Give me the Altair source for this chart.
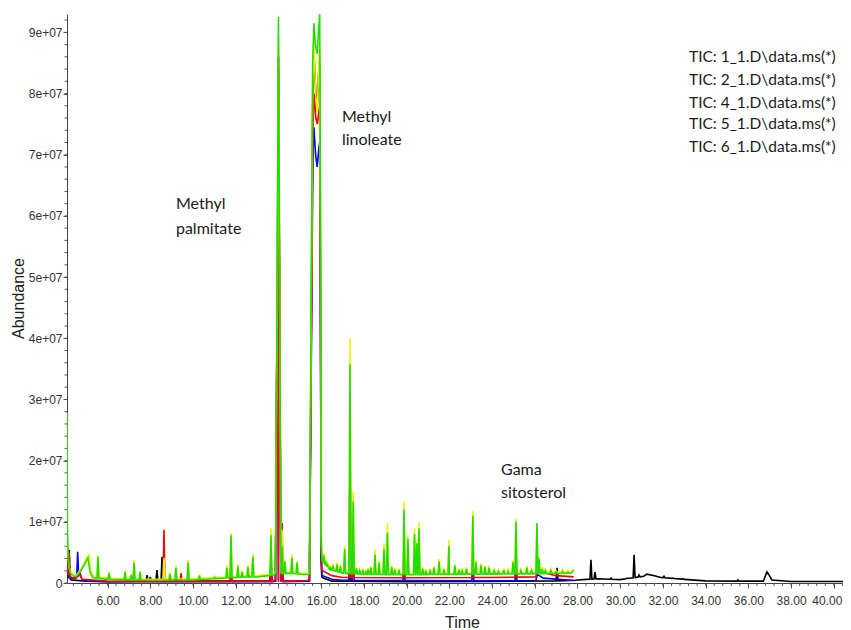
import altair as alt
import numpy as np
import pandas as pd

# ---------------- data (time in min, abundance in units of 1e6) ----------------
series_names = ["1_1", "2_1", "4_1", "5_1", "6_1"]
series_colors = ["#000000", "#0000ff", "#ff0000", "#f2f000", "#22dd00"]

black_base = [(4.10, 2.0), (4.15, 1.0), (4.30, 0.5), (5.00, 0.3), (6.00, 0.2), (7.60, 0.3),
              (8.70, 0.5), (9.50, 0.3), (12.00, 0.3), (15.30, 0.3), (16.10, 0.8), (16.50, 0.3),
              (20.00, 0.2), (24.00, 0.25), (27.00, 0.35), (27.90, 0.45), (28.40, 0.6),
              (29.00, 0.7), (30.00, 0.55), (31.10, 1.1), (31.25, 1.45), (31.60, 1.2),
              (31.90, 0.9), (33.00, 0.6), (34.00, 0.35), (36.00, 0.3), (36.70, 0.3),
              (36.80, 1.2), (36.87, 1.8), (36.95, 1.4), (37.10, 0.5), (38.00, 0.25), (40.43, 0.25)]
black_peaks = [(4.20, 5.4), (7.85, 1.3), (8.00, 1.0), (8.31, 2.1), (8.55, 4.3), (13.65, 3.0),
               (14.17, 3.0), (17.35, 15.0), (27.04, 2.5), (28.63, 3.8), (28.82, 1.8),
               (29.57, 0.8), (30.32, 0.8), (30.65, 4.6), (30.88, 1.3), (32.05, 1.1),
               (32.47, 0.8), (32.93, 0.7), (35.51, 0.5)]
black_big = [(13.86, 0.3), (13.93, 40.0), (14.00, 84.0), (14.06, 40.0), (14.11, 3.0),
             (15.45, 0.4), (15.53, 38.0), (15.61, 80.0), (15.67, 86.0), (15.75, 80.0),
             (15.82, 78.0), (15.89, 84.0), (15.93, 85.0), (15.97, 45.0), (16.00, 4.0), (16.03, 1.0)]

blue_base = [(4.10, 2.5), (4.15, 1.2), (4.30, 0.7), (4.50, 0.7), (4.72, 1.5), (4.82, 0.4),
             (6.00, 0.2), (14.00, 0.2), (15.30, 0.3), (16.06, 1.2), (16.50, 0.6), (17.00, 0.45),
             (20.00, 0.4), (24.00, 0.35), (26.05, 0.4), (26.12, 1.4), (26.40, 0.8), (27.82, 0.4)]
blue_peaks = [(4.60, 5.1), (11.78, 3.0), (13.65, 3.5), (14.17, 4.0), (17.35, 20.0),
              (17.50, 6.0), (19.88, 4.0), (23.10, 3.5), (25.12, 3.5)]
blue_big = [(13.86, 0.3), (13.93, 41.0), (14.00, 86.0), (14.06, 41.0), (14.11, 3.0),
            (15.45, 0.3), (15.53, 33.0), (15.61, 69.0), (15.66, 74.5), (15.74, 70.0),
            (15.81, 68.0), (15.89, 71.0), (15.93, 72.0), (15.97, 40.0), (16.00, 4.0), (16.03, 1.4)]

red_base = [(4.10, 3.0), (4.15, 1.5), (4.30, 0.9), (4.50, 0.8), (4.70, 1.4), (4.80, 0.6),
            (6.00, 0.3), (10.00, 0.25), (14.00, 0.3), (15.30, 0.4), (16.06, 2.0), (16.50, 1.2),
            (17.00, 0.9), (20.00, 0.85), (24.00, 0.9), (26.05, 1.0), (26.12, 2.6), (26.40, 1.7),
            (27.00, 1.2), (27.82, 1.0)]
red_peaks = [(4.20, 5.0), (8.64, 8.7), (9.44, 1.6), (11.78, 3.5), (13.65, 4.0), (14.17, 9.8),
             (17.35, 22.0), (17.50, 7.0), (19.88, 6.0), (23.10, 5.0), (25.12, 5.0)]
red_big = [(13.86, 0.5), (13.93, 42.0), (14.00, 86.0), (14.06, 42.0), (14.11, 5.0),
           (15.45, 0.5), (15.53, 35.0), (15.61, 74.0), (15.67, 80.0), (15.75, 76.0),
           (15.82, 75.0), (15.89, 77.0), (15.93, 78.0), (15.97, 45.0), (16.00, 6.0), (16.03, 2.2)]

yellow_base = [(4.10, 8.0), (4.13, 5.0), (4.20, 2.5), (4.30, 1.5), (4.55, 1.3), (4.75, 2.3),
               (4.95, 3.6), (5.13, 4.6), (5.22, 1.8), (5.35, 1.1), (6.00, 0.8), (8.00, 0.6),
               (10.00, 0.7), (11.00, 0.9), (12.00, 1.1), (13.00, 1.2), (13.80, 1.5), (14.50, 1.8),
               (15.20, 1.6), (15.42, 1.6), (16.06, 4.0), (16.40, 2.5), (17.00, 1.8), (18.00, 1.6),
               (20.00, 1.55), (22.00, 1.6), (24.00, 1.65), (26.00, 1.7), (27.70, 1.8), (27.82, 2.3)]
yellow_peaks = [(5.55, 4.5), (6.07, 1.8), (6.82, 2.1), (7.10, 1.5), (7.24, 3.8), (7.52, 2.0),
                (8.64, 4.1), (8.92, 1.7), (9.20, 2.9), (9.77, 3.8), (10.30, 1.4), (11.00, 1.2),
                (11.59, 2.9), (11.78, 8.2), (12.10, 3.1), (12.30, 2.0), (12.57, 2.9), (12.80, 4.7),
                (13.65, 9.0), (14.17, 8.7), (14.30, 3.8), (14.63, 4.6), (14.87, 3.6), (16.12, 4.9),
                (16.20, 3.9), (16.30, 3.3), (16.42, 2.9), (16.55, 3.1), (16.74, 3.3), (16.90, 3.0),
                (17.10, 6.0), (17.35, 40.0), (17.50, 14.9), (17.65, 2.7), (17.80, 2.2), (17.95, 2.3),
                (18.10, 2.0), (18.20, 2.5), (18.33, 2.8), (18.52, 5.4), (18.71, 3.6), (18.94, 6.5),
                (19.10, 9.8), (19.30, 2.9), (19.45, 2.5), (19.64, 2.4), (19.88, 13.3), (20.06, 7.8),
                (20.37, 9.0), (20.48, 7.0), (20.58, 10.0), (20.75, 2.6), (20.90, 2.2), (21.10, 2.4),
                (21.28, 2.8), (21.52, 3.9), (21.75, 2.5), (21.98, 7.0), (22.26, 3.1), (22.45, 2.4),
                (22.60, 2.2), (22.80, 2.6), (23.10, 11.8), (23.25, 3.7), (23.48, 3.2), (23.67, 2.9),
                (23.86, 2.8), (24.10, 2.3), (24.30, 2.1), (24.55, 2.4), (24.75, 2.2), (24.98, 3.7),
                (25.12, 10.5), (25.35, 2.2), (25.63, 2.8), (25.85, 2.3), (26.10, 9.5), (26.20, 4.3),
                (26.35, 2.6), (26.50, 2.2), (26.75, 2.3), (27.00, 2.0), (27.30, 2.2), (27.55, 2.1)]
yellow_big = [(13.86, 1.7), (13.93, 43.0), (14.00, 89.0), (14.06, 43.0), (14.11, 9.0),
              (15.45, 1.7), (15.52, 38.0), (15.60, 80.0), (15.66, 88.5), (15.74, 80.0),
              (15.82, 77.0), (15.89, 85.0), (15.93, 87.0), (15.97, 55.0), (16.00, 8.5), (16.03, 4.5)]

green_base = [(4.10, 27.8), (4.12, 9.0), (4.16, 3.5), (4.25, 1.6), (4.40, 1.1), (4.55, 1.1),
              (4.75, 2.0), (4.95, 3.2), (5.08, 4.1), (5.18, 1.8), (5.30, 0.9), (6.00, 0.6),
              (8.00, 0.45), (10.00, 0.5), (11.00, 0.7), (12.00, 0.9), (13.00, 1.0), (13.80, 1.3),
              (14.50, 1.6), (15.20, 1.4), (15.42, 1.4), (16.06, 3.5), (16.40, 2.2), (17.00, 1.6),
              (18.00, 1.4), (20.00, 1.35), (22.00, 1.4), (24.00, 1.45), (26.00, 1.5), (27.70, 1.6),
              (27.82, 2.1)]
green_peaks = [(5.55, 4.3), (6.07, 1.6), (6.82, 1.8), (7.10, 1.3), (7.24, 3.3), (7.52, 1.8),
               (8.92, 1.5), (9.20, 2.5), (9.77, 3.3), (10.30, 1.2), (11.00, 1.0), (11.59, 2.5),
               (11.78, 7.8), (12.10, 2.7), (12.30, 1.8), (12.57, 2.6), (12.80, 4.3), (13.65, 7.8),
               (14.17, 5.9), (14.30, 3.5), (14.63, 4.1), (14.87, 3.3), (16.12, 4.5), (16.20, 3.6),
               (16.30, 3.0), (16.42, 2.6), (16.55, 2.8), (16.74, 3.0), (16.90, 2.7), (17.10, 5.6),
               (17.35, 35.7), (17.50, 13.3), (17.65, 2.4), (17.80, 2.0), (17.95, 2.1), (18.10, 1.8),
               (18.20, 2.2), (18.33, 2.5), (18.52, 4.6), (18.71, 3.3), (18.94, 5.6), (19.10, 8.2),
               (19.30, 2.6), (19.45, 2.2), (19.64, 2.1), (19.88, 12.0), (20.06, 7.2), (20.37, 8.0),
               (20.48, 6.5), (20.58, 8.9), (20.75, 2.3), (20.90, 2.0), (21.10, 2.1), (21.28, 2.5),
               (21.52, 3.5), (21.75, 2.2), (21.98, 6.0), (22.26, 2.8), (22.45, 2.1), (22.60, 2.0),
               (22.80, 2.3), (23.10, 11.0), (23.25, 3.4), (23.48, 2.9), (23.67, 2.6), (23.86, 2.5),
               (24.10, 2.0), (24.30, 1.9), (24.55, 2.1), (24.75, 1.9), (24.98, 3.4), (25.12, 10.0),
               (25.35, 2.0), (25.63, 2.5), (25.85, 2.0), (26.10, 9.8), (26.20, 4.0), (26.35, 2.3),
               (26.50, 2.0), (26.75, 2.0), (27.00, 1.8), (27.30, 1.9), (27.55, 1.8)]
green_big = [(13.86, 1.5), (13.93, 45.0), (14.00, 92.5), (14.06, 45.0), (14.11, 8.0),
             (15.45, 1.5), (15.52, 40.0), (15.60, 85.0), (15.66, 91.5), (15.73, 88.0),
             (15.81, 86.5), (15.89, 91.0), (15.93, 93.0), (15.97, 60.0), (16.00, 8.0), (16.03, 4.0)]

x_major = [6, 8, 10, 12, 14, 16, 18, 20, 22, 24, 26, 28, 30, 32, 34, 36, 38, 40]
y_major = [0, 1e7, 2e7, 3e7, 4e7, 5e7, 6e7, 7e7, 8e7, 9e7]

legend_lines = ["TIC: 1_1.D\\data.ms(*)", "TIC: 2_1.D\\data.ms(*)", "TIC: 4_1.D\\data.ms(*)",
                "TIC: 5_1.D\\data.ms(*)", "TIC: 6_1.D\\data.ms(*)"]
legend_t = [33.22] * 5
legend_a = [8.59e7, 8.22e7, 7.85e7, 7.50e7, 7.13e7]

note_text = ["Methyl", "palmitate", "Methyl", "linoleate", "Gama", "sitosterol"]
note_t = [9.20, 9.20, 16.97, 16.97, 24.42, 24.42]
note_a = [6.19e7, 5.79e7, 7.62e7, 7.24e7, 1.85e7, 1.47e7]

# ---------------- build polylines ----------------
def build(base, peaks, big, hw=0.045):
    bt = [p[0] for p in base]
    bv = [p[1] for p in base]
    pts = list(base) + list(big)
    for t, h in peaks:
        for dt in (-hw, hw):
            pts.append((t + dt, float(np.interp(t + dt, bt, bv))))
        pts.append((t, h))
    pts.sort()
    return pts

all_series = [(black_base, black_peaks, black_big), (blue_base, blue_peaks, blue_big),
              (red_base, red_peaks, red_big), (yellow_base, yellow_peaks, yellow_big),
              (green_base, green_peaks, green_big)]
rows = []
for k, (b, p, g) in enumerate(all_series):
    for i, (t, v) in enumerate(build(b, p, g)):
        rows.append({"s": k, "i": i, "t": t, "a": v * 1e6})
df = pd.DataFrame(rows)

W, H = 776, 569
XDOM = [4.1, 40.43]
YDOM = [0, 9.3e7]

x_axis = alt.Axis(values=x_major, format=".2f", title="Time", grid=False,
                  labelFont="Liberation Sans", labelFontSize=12, labelColor="#333",
                  labelPadding=7, tickSize=5, tickColor="#555", domainColor="#444",
                  labelOverlap=False, labelFlush=False,
                  labelOffset={"expr": "datum.value == 40 ? -7 : 0"},
                  titleFont="Liberation Sans", titleFontSize=16, titleFontWeight="normal",
                  titleColor="#222", titleX=395, titleY=39, titleAlign="center",
                  titleBaseline="middle")
y_axis = alt.Axis(values=y_major, labelExpr="datum.value == 0 ? '0' : format(datum.value / 1e7, 'd') + 'e+07'",
                  title="Abundance", grid=False, labelFont="Liberation Sans", labelFontSize=12,
                  labelColor="#333", labelPadding=1, tickSize=4, tickColor="#555",
                  domainColor="#444", titleFont="Liberation Sans", titleFontSize=16,
                  titleFontWeight="normal", titleColor="#222", titleX=-49, titleY=284,
                  titleAlign="center", titleBaseline="middle", titleAngle=270)

X = alt.X("t:Q", scale=alt.Scale(domain=XDOM, nice=False, zero=False), axis=x_axis)
Y = alt.Y("a:Q", scale=alt.Scale(domain=YDOM, nice=False), axis=y_axis)

layers = []
for k in range(5):
    layers.append(
        alt.Chart(df).transform_filter(alt.datum.s == k)
        .mark_line(color=series_colors[k], strokeWidth=1.6, clip=True)
        .encode(x=X, y=Y, order="i:Q")
    )

x_minor = pd.DataFrame({"t": [round(4.4 + 0.4 * i, 2) for i in range(92) if 4.4 + 0.4 * i <= 40.43]})
y_minor = pd.DataFrame({"a": [2e6 * i for i in range(47)]})

xm = alt.Chart(x_minor).mark_rule(color="#555", strokeWidth=1).encode(
    x=X, y=alt.value(H), y2=alt.value(H + 3))
ym = alt.Chart(y_minor).mark_rule(color="#555", strokeWidth=1).encode(
    y=Y, x=alt.value(-2.5), x2=alt.value(0))

notes = alt.Chart(pd.DataFrame({"t": note_t, "a": note_a, "txt": note_text})).mark_text(
    align="left", baseline="middle", font="Lato", fontSize=16, color="#1a1a1a"
).encode(x=X, y=Y, text="txt:N")

legend = alt.Chart(pd.DataFrame({"t": legend_t, "a": legend_a, "txt": legend_lines})).mark_text(
    align="left", baseline="middle", font="Lato", fontSize=15.5, color="#1a1a1a"
).encode(x=X, y=Y, text="txt:N")

chart = alt.layer(*layers, xm, ym, notes, legend).properties(
    width=W, height=H,
    autosize=alt.AutoSizeParams(type="none"),
    padding={"left": 59, "top": 6, "right": 0, "bottom": 52},
).configure_view(stroke=None)

chart.save("out.html", embed_options={"renderer": "svg", "actions": False})
